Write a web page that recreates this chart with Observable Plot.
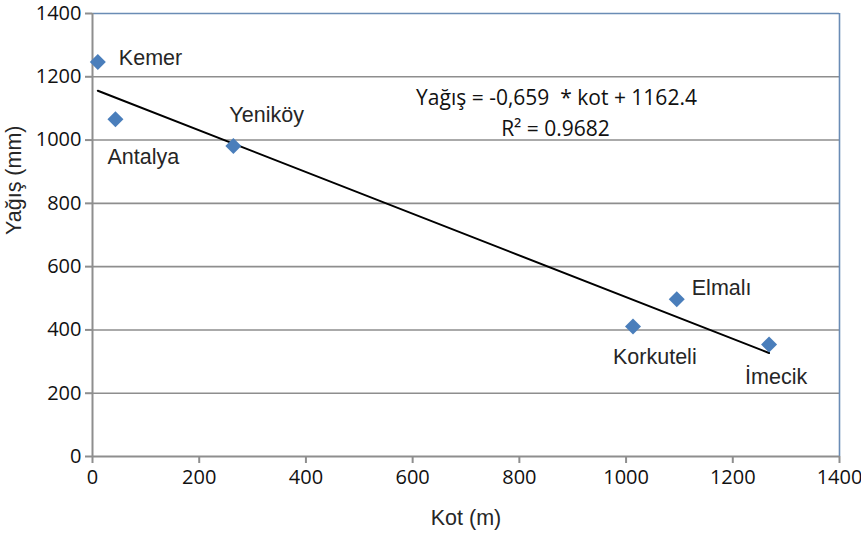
<!DOCTYPE html>
<html>
<head>
<meta charset="utf-8">
<script src="https://cdn.jsdelivr.net/npm/d3@7"></script>
<script src="https://cdn.jsdelivr.net/npm/@observablehq/plot@0.6"></script>
<style>
  html, body { margin: 0; padding: 0; background: #fff; }
</style>
</head>
<body>
<div id="chart"></div>
<script>
// Data
const stations = ["Kemer", "Antalya", "Yeniköy", "Korkuteli", "Elmalı", "İmecik"];
const kot = [10, 43, 264, 1013, 1095, 1268];        // Kot (m)
const yagis = [1247, 1066, 981, 411, 497, 354];     // Yağış (mm)
const trendKot = [10, 1268];
const trendYagis = [1156, 327];
const xTicks = [0, 200, 400, 600, 800, 1000, 1200, 1400];
const yTicks = [0, 200, 400, 600, 800, 1000, 1200, 1400];
const equation = "Yağış = -0,659  * kot + 1162.4";
const rSquared = "R² = 0.9682";

const points = stations.map((name, i) => ({name, kot: kot[i], yagis: yagis[i]}));
const trend = trendKot.map((k, i) => ({kot: k, yagis: trendYagis[i]}));

// label placement (style only)
const labelOffsets = {
  "Kemer":     {dx: 21,  dy: -4},
  "Antalya":   {dx: -8,  dy: 38},
  "Yeniköy":   {dx: -4,  dy: -31},
  "Elmalı":    {dx: 15,  dy: -11},
  "Korkuteli": {dx: -20, dy: 31},
  "İmecik":    {dx: -24, dy: 33}
};

const labelFont = "'Liberation Sans', Arial, sans-serif";
const tickFont = "'Open Sans', sans-serif";
const gridColor = "#8e8e8e";
const borderBlue = "#6a8cb5";

const labelMarks = stations.map(name => Plot.text(points.filter(d => d.name === name), {
  x: "kot", y: "yagis", text: "name",
  textAnchor: "start", dx: labelOffsets[name].dx, dy: labelOffsets[name].dy,
  fontSize: 21.5, fontFamily: labelFont, fill: "#262626"
}));

const chart = Plot.plot({
  width: 861,
  height: 534,
  marginLeft: 92,
  marginRight: 22,
  marginTop: 13,
  marginBottom: 78,
  style: {background: "#fff", overflow: "visible"},
  x: {domain: [0, 1400], label: null},
  y: {domain: [0, 1400], label: null},
  marks: [
    Plot.ruleY(yTicks.filter(t => t > 0 && t < 1400), {stroke: gridColor, strokeWidth: 1.6}),
    Plot.ruleY([1400], {stroke: borderBlue, strokeWidth: 1.6}),
    Plot.ruleX([1400], {stroke: borderBlue, strokeWidth: 1.6}),
    Plot.ruleX([0], {stroke: gridColor, strokeWidth: 2}),
    Plot.ruleY([0], {stroke: gridColor, strokeWidth: 2}),
    Plot.axisX({ticks: xTicks, tickFormat: d => String(d), tickSize: 7, stroke: gridColor, strokeWidth: 2, tickPadding: 6,
      fontSize: 20, fontFamily: tickFont, fill: "#111", label: null}),
    Plot.axisY({ticks: yTicks, tickFormat: d => String(d), tickSize: 7, stroke: gridColor, strokeWidth: 2, tickPadding: 4,
      fontSize: 20, fontFamily: tickFont, fill: "#111", label: null}),
    Plot.line(trend, {x: "kot", y: "yagis", stroke: "#000", strokeWidth: 2}),
    Plot.dot(points, {x: "kot", y: "yagis", symbol: "diamond2", r: 7.2, fill: "#4a7ebb", stroke: "none"}),
    ...labelMarks,
    Plot.text([equation], {frameAnchor: "top-left", dx: 464, dy: 77, textAnchor: "middle",
      fontSize: 21, fontFamily: tickFont, fill: "#111"}),
    Plot.text([rSquared], {frameAnchor: "top-left", dx: 463, dy: 108, textAnchor: "middle",
      fontSize: 21, fontFamily: tickFont, fill: "#111"}),
    Plot.text(["Kot (m)"], {frameAnchor: "bottom", dy: 68, fontSize: 21.5, fontFamily: labelFont, fill: "#262626"}),
    Plot.text(["Yağış (mm)"], {frameAnchor: "left", dx: -78, rotate: -90, fontSize: 21.5, fontFamily: labelFont, fill: "#262626"})
  ]
});

document.getElementById("chart").appendChild(chart);
</script>
</body>
</html>
